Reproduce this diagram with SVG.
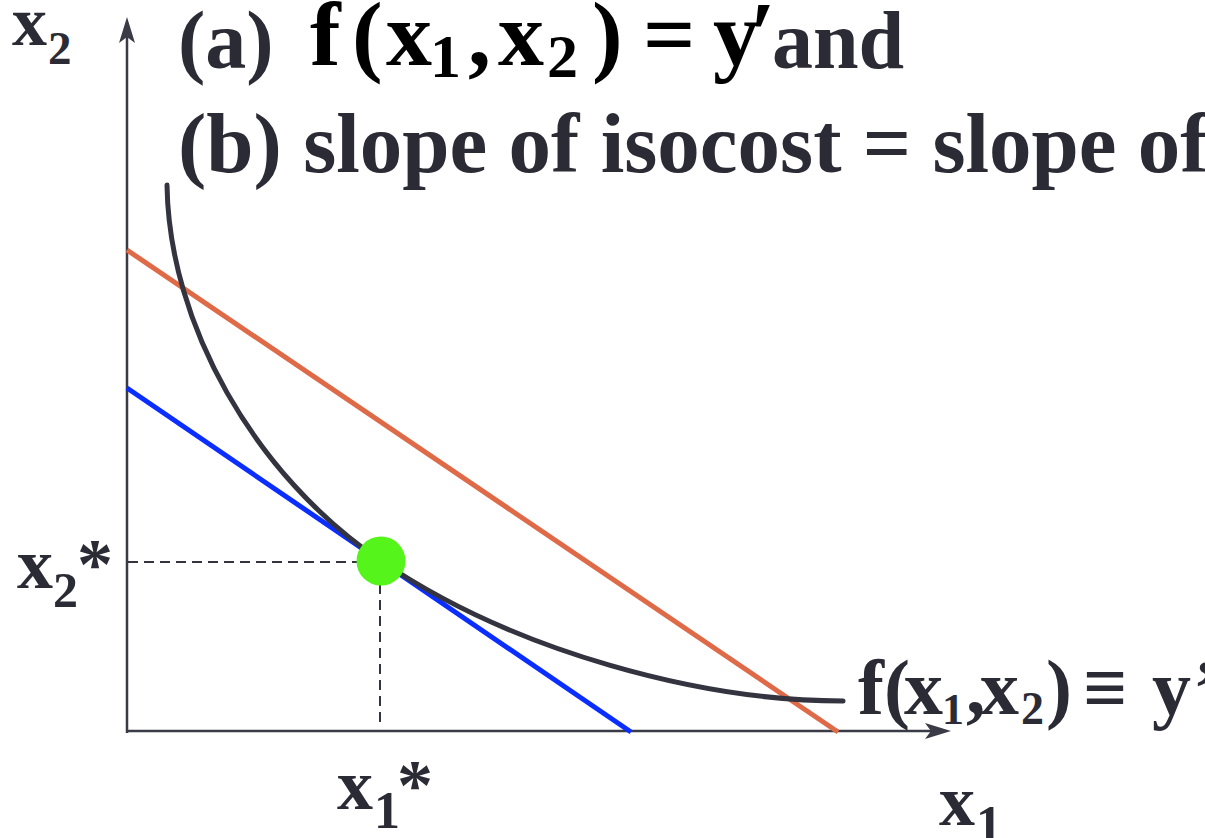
<svg xmlns="http://www.w3.org/2000/svg" width="1205" height="838" viewBox="0 0 1205 838">
<style>
.t{font-family:"Liberation Serif","Times New Roman",serif;font-weight:bold;fill:#2b2b35}
.m{font-family:"Liberation Serif","Times New Roman",serif;font-weight:bold;fill:#000}
.axis{stroke:#3a3b46;stroke-width:2.5;fill:none}
.dash{stroke:#33343f;stroke-width:2;stroke-dasharray:10 6;fill:none}
</style>
<rect width="1205" height="838" fill="#fff"/>
<g id="title">
<text class="t" x="178" y="68" font-size="82">(a)</text>
<text class="m" y="65" font-size="92"><tspan x="310">f</tspan><tspan x="352">(</tspan><tspan x="386">x</tspan><tspan x="430" y="77" font-size="62">1</tspan><tspan x="468" y="65">,</tspan><tspan x="498">x</tspan><tspan x="547" y="77" font-size="62">2</tspan><tspan x="592" y="65">)</tspan><tspan x="643">=</tspan><tspan x="713">y</tspan><tspan x="750">′</tspan></text>
<text class="t" x="772" y="68" font-size="82">and</text>
<text class="t" x="178" y="172" font-size="85">(b) slope of isocost = slope of</text>
</g>
<g id="axes">
<line class="axis" x1="127" y1="733" x2="127" y2="36"/>
<polygon points="127,17 135,43 127,37 119,43" fill="#3a3b46"/>
<line class="axis" x1="126" y1="731" x2="932" y2="731"/>
<polygon points="951,731 925,723 931,731 925,739" fill="#3a3b46"/>
</g>
<g id="connectors">
<line x1="127" y1="250" x2="838" y2="732" stroke="#df6a48" stroke-width="5"/>
<line x1="127" y1="388" x2="631" y2="732" stroke="#0a2eff" stroke-width="5"/>
<path d="M167,185 C169,324 254,475 381,561 C515,652 702,701 843,701" fill="none" stroke="#33343f" stroke-width="5" stroke-linecap="round"/>
<line class="dash" x1="128" y1="562" x2="360" y2="562"/>
<line class="dash" x1="380" y1="584" x2="380" y2="724"/>
</g>
<g id="optimum">
<circle cx="381" cy="561" r="24.5" fill="#55f51c"/>
</g>
<g id="labels">
<text class="t" font-size="70"><tspan x="12" y="45">x</tspan><tspan x="48" y="64" font-size="47">2</tspan></text>
<text class="t" font-size="72"><tspan x="17" y="588">x</tspan><tspan x="53" y="607" font-size="50">2</tspan><tspan x="77" y="588">*</tspan></text>
<text class="t" font-size="72"><tspan x="337" y="809">x</tspan><tspan x="374" y="828" font-size="52">1</tspan><tspan x="397" y="809">*</tspan></text>
<text class="t" font-size="72"><tspan x="939" y="825">x</tspan><tspan x="976" y="842" font-size="52">1</tspan></text>
<text class="t" font-size="78" y="714"><tspan x="858">f</tspan><tspan x="884">(</tspan><tspan x="904">x</tspan><tspan x="942" y="724" font-size="44">1</tspan><tspan x="966" y="714">,</tspan><tspan x="980">x</tspan><tspan x="1021" y="724" font-size="46">2</tspan><tspan x="1046" y="714">)</tspan><tspan x="1083">≡</tspan><tspan x="1152">y</tspan><tspan x="1193">’</tspan></text>
</g>
</svg>
